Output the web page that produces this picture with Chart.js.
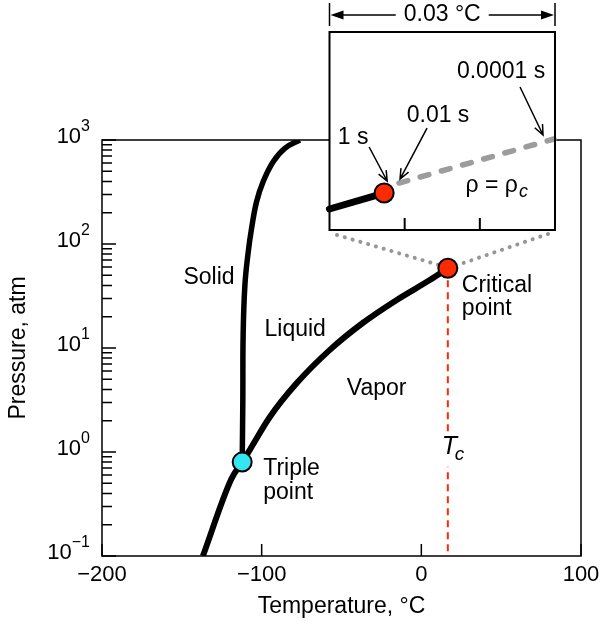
<!DOCTYPE html>
<html>
<head>
<meta charset="utf-8">
<script src="https://cdn.jsdelivr.net/npm/chart.js@4.4.1/dist/chart.umd.min.js"></script>
<style>
  html, body { margin: 0; padding: 0; background: #fff; }
  #wrap { position: relative; width: 602px; height: 627px; }
  #main { position: absolute; left: 0; top: 0; }
  #inset { position: absolute; left: 318px; top: 0; }
</style>
</head>
<body>
<div id="wrap">
  <canvas id="main" width="602" height="627"></canvas>
  <canvas id="inset" width="250" height="242"></canvas>
</div>
<script>
// sublimation curve (solid - vapor), up to the triple point
const sublimT = [-136.8, -119.0, -112.2];
const sublimP = [0.1, 0.55, 0.80];
// vapor pressure curve, triple point to critical point
const vaporT = [-112.2, -107.4, -94.9, -78.0, -57.3, -36.7, -15.4, 5.3, 16.6];
const vaporP = [0.80, 1.05, 2.17, 4.6, 9.6, 17.4, 29, 45, 58.4];
// melting curve
const meltT = [-112.2, -111.8, -111.6, -110.5, -108.4, -106.3, -103.2, -99.1, -92.8, -85.5, -76.1];
const meltP = [0.80, 3.16, 13.3, 40.3, 84.3, 142, 255, 397, 618, 832, 1000];

const tripleT = -112.2, tripleP = 0.80;
const criticalT = 16.6, criticalP = 58.4;

const xTicks = [-200, -100, 0, 100];
const yDecades = [-1, 0, 1, 2, 3];

// inset: a 0.03 °C window at the critical point
const insetCurveT = [0, 0.00727];
const insetCurveP = [0.00424, 0.00747];
const insetDashT = [0.00925, 0.02987];
const insetDashP = [0.00949, 0.01838];
const insetTicks = [0.01, 0.02];
const timeLabels = ['1 s', '0.01 s', '0.0001 s'];

const FONT = '"Liberation Sans", Arial, Helvetica, sans-serif';
const RED = '#ff2a00';
const CYAN = '#33e6ef';
const insetBox = { left: 328, top: 32, right: 555, bottom: 230 };

function pts(xs, ys) {
  return xs.map((v, i) => ({ x: v, y: ys[i] }));
}

function arrow(ctx, x0, y0, x1, y1) {
  const a = Math.atan2(y1 - y0, x1 - x0);
  ctx.beginPath();
  ctx.moveTo(x0, y0);
  ctx.lineTo(x1, y1);
  ctx.moveTo(x1 - 11 * Math.cos(a - 0.4), y1 - 11 * Math.sin(a - 0.4));
  ctx.lineTo(x1, y1);
  ctx.lineTo(x1 - 11 * Math.cos(a + 0.4), y1 - 11 * Math.sin(a + 0.4));
  ctx.stroke();
}

const mainDecor = {
  id: 'mainDecor',
  beforeDatasetsDraw(chart) {
    const { ctx, scales: { x, y } } = chart;
    const cx = x.getPixelForValue(criticalT);
    const cy = y.getPixelForValue(criticalP);
    // dotted guides from the inset corners to the critical point
    ctx.save();
    ctx.strokeStyle = '#969696';
    ctx.lineWidth = 4;
    ctx.lineCap = 'round';
    ctx.setLineDash([0.1, 8]);
    ctx.beginPath();
    ctx.moveTo(insetBox.left + 9, insetBox.bottom + 5);
    ctx.lineTo(cx - 8, cy - 3);
    ctx.moveTo(insetBox.right - 7, insetBox.bottom + 4);
    ctx.lineTo(cx + 9, cy - 3);
    ctx.stroke();
    ctx.restore();
  },
  afterDatasetsDraw(chart) {
    const { ctx, scales: { x, y } } = chart;
    ctx.save();
    ctx.fillStyle = '#000';
    ctx.font = '23px ' + FONT;
    ctx.textBaseline = 'middle';
    ctx.textAlign = 'center';
    ctx.fillText('Solid', x.getPixelForValue(-133), y.getPixelForValue(47));
    ctx.fillText('Liquid', x.getPixelForValue(-79), y.getPixelForValue(14.9));
    ctx.fillText('Vapor', x.getPixelForValue(-28), y.getPixelForValue(4.1));

    ctx.textAlign = 'left';
    const tx = x.getPixelForValue(tripleT), ty = y.getPixelForValue(tripleP);
    ctx.fillText('Triple', tx + 21, ty + 7);
    ctx.fillText('point', tx + 21, ty + 31);
    const cx = x.getPixelForValue(criticalT), cy = y.getPixelForValue(criticalP);
    ctx.fillText('Critical', cx + 14, cy + 17);
    ctx.fillText('point', cx + 14, cy + 40);

    // T_c label sitting on the dashed line
    const lx = cx - 6, ly = y.getPixelForValue(1.05);
    ctx.fillStyle = '#fff';
    ctx.fillRect(lx - 2, ly - 15, 28, 32);
    ctx.fillStyle = '#000';
    ctx.font = 'italic 25px ' + FONT;
    ctx.fillText('T', lx, ly - 3);
    ctx.font = 'italic 19px ' + FONT;
    ctx.fillText('c', lx + 13, ly + 5);
    ctx.restore();
  },
  afterDraw(chart) {
    const { ctx, chartArea: a, scales: { x, y } } = chart;
    ctx.save();
    ctx.strokeStyle = '#000';
    ctx.lineWidth = 1.5;
    ctx.strokeRect(a.left, a.top, a.right - a.left, a.bottom - a.top);

    // log ticks on the left axis, pointing inwards
    ctx.beginPath();
    yDecades.forEach(d => {
      const base = Math.pow(10, d);
      const py = y.getPixelForValue(base);
      ctx.moveTo(a.left, py);
      ctx.lineTo(a.left + 14, py);
      if (d < 3) {
        for (let m = 2; m <= 9; m++) {
          const my = y.getPixelForValue(m * base);
          ctx.moveTo(a.left, my);
          ctx.lineTo(a.left + 10, my);
        }
      }
    });
    xTicks.forEach(v => {
      const px = x.getPixelForValue(v);
      ctx.moveTo(px, a.bottom);
      ctx.lineTo(px, a.bottom - 12);
    });
    ctx.stroke();

    ctx.fillStyle = '#000';
    ctx.textBaseline = 'middle';
    yDecades.forEach(d => {
      const py = y.getPixelForValue(Math.pow(10, d));
      const exp = d < 0 ? '\u2212' + (-d) : String(d);
      ctx.font = '16px ' + FONT;
      const ew = ctx.measureText(exp).width;
      ctx.textAlign = 'left';
      ctx.fillText(exp, a.left - 12 - ew, py - 13);
      ctx.font = '22px ' + FONT;
      ctx.textAlign = 'right';
      ctx.fillText('10', a.left - 12 - ew, py - 3);
    });

    ctx.textAlign = 'center';
    ctx.font = '22px ' + FONT;
    xTicks.forEach(v => {
      const label = v < 0 ? '\u2212' + (-v) : String(v);
      ctx.fillText(label, x.getPixelForValue(v), a.bottom + 19);
    });

    ctx.font = '23px ' + FONT;
    ctx.fillText('Temperature, \u00b0C', (a.left + a.right) / 2, a.bottom + 51);
    ctx.translate(19, (a.top + a.bottom) / 2);
    ctx.rotate(-Math.PI / 2);
    ctx.fillText('Pressure, atm', 0, 0);
    ctx.restore();
  }
};

const mainConfig = {
  type: 'scatter',
  data: {
    datasets: [
      {
        data: [{ x: tripleT, y: tripleP }],
        pointRadius: 9.5,
        backgroundColor: CYAN,
        borderColor: '#000',
        borderWidth: 2,
        order: 0
      },
      {
        data: [{ x: criticalT, y: criticalP }],
        pointRadius: 9.5,
        backgroundColor: RED,
        borderColor: '#000',
        borderWidth: 2,
        order: 0
      },
      {
        data: pts(vaporT, vaporP),
        showLine: true,
        borderColor: '#000',
        borderWidth: 6,
        cubicInterpolationMode: 'monotone',
        pointRadius: 0,
        order: 1
      },
      {
        data: pts(sublimT, sublimP),
        showLine: true,
        borderColor: '#000',
        borderWidth: 6,
        cubicInterpolationMode: 'monotone',
        pointRadius: 0,
        order: 1
      },
      {
        data: pts(meltT, meltP),
        showLine: true,
        borderColor: '#000',
        borderWidth: 5.5,
        tension: 0.4,
        pointRadius: 0,
        order: 1
      },
      {
        data: [{ x: criticalT, y: criticalP }, { x: criticalT, y: 0.1 }],
        showLine: true,
        borderColor: RED,
        borderWidth: 2,
        borderDash: [7, 5],
        pointRadius: 0,
        order: 2
      }
    ]
  },
  options: {
    responsive: false,
    animation: false,
    events: [],
    layout: { padding: { left: 102, top: 140, right: 21, bottom: 71 } },
    plugins: { legend: { display: false }, tooltip: { enabled: false } },
    scales: {
      x: { type: 'linear', display: false, min: -200, max: 100 },
      y: { type: 'logarithmic', display: false, min: 0.1, max: 1000 }
    }
  },
  plugins: [mainDecor]
};

const insetDecor = {
  id: 'insetDecor',
  beforeDraw(chart) {
    const { ctx, chartArea: a } = chart;
    ctx.save();
    ctx.fillStyle = '#fff';
    ctx.fillRect(a.left, a.top, a.right - a.left, a.bottom - a.top);
    ctx.restore();
  },
  afterDraw(chart) {
    const { ctx, chartArea: a, scales: { x, y } } = chart;
    ctx.save();
    ctx.strokeStyle = '#000';
    ctx.fillStyle = '#000';
    ctx.lineWidth = 2;
    ctx.strokeRect(a.left, a.top, a.right - a.left, a.bottom - a.top);
    ctx.beginPath();
    insetTicks.forEach(v => {
      const px = x.getPixelForValue(v);
      ctx.moveTo(px, a.bottom);
      ctx.lineTo(px, a.bottom - 12);
    });
    ctx.stroke();

    // width of the window, drawn above the box
    const dy = a.top - 17;
    const mid = (a.left + a.right) / 2;
    ctx.font = '23px ' + FONT;
    ctx.textAlign = 'center';
    ctx.textBaseline = 'middle';
    const label = (x.max - x.min).toFixed(2) + ' \u00b0C';
    const tw = ctx.measureText(label).width;
    ctx.fillText(label, mid, dy);
    ctx.lineWidth = 1.5;
    ctx.beginPath();
    ctx.moveTo(a.left, dy - 12); ctx.lineTo(a.left, dy + 11);
    ctx.moveTo(a.right, dy - 12); ctx.lineTo(a.right, dy + 11);
    ctx.moveTo(a.left + 10, dy); ctx.lineTo(mid - tw / 2 - 8, dy);
    ctx.moveTo(mid + tw / 2 + 8, dy); ctx.lineTo(a.right - 10, dy);
    ctx.stroke();
    ctx.beginPath();
    ctx.moveTo(a.left + 1, dy); ctx.lineTo(a.left + 14, dy - 4.5); ctx.lineTo(a.left + 14, dy + 4.5);
    ctx.closePath();
    ctx.moveTo(a.right - 1, dy); ctx.lineTo(a.right - 14, dy - 4.5); ctx.lineTo(a.right - 14, dy + 4.5);
    ctx.closePath();
    ctx.fill();

    // time markers along the line
    const p1 = { x: x.getPixelForValue(insetCurveT[1]), y: y.getPixelForValue(insetCurveP[1]) };
    const p2 = { x: x.getPixelForValue(insetDashT[0]), y: y.getPixelForValue(insetDashP[0]) };
    const p3 = { x: x.getPixelForValue(insetDashT[1]), y: y.getPixelForValue(insetDashP[1]) };
    ctx.lineWidth = 1.5;
    arrow(ctx, p1.x - 15, p1.y - 46, p1.x + 3, p1.y - 12);
    arrow(ctx, p2.x + 28, p2.y - 55, p2.x + 1, p2.y - 4);
    arrow(ctx, p3.x - 34, p3.y - 52, p3.x - 11, p3.y - 4);
    ctx.fillText(timeLabels[0], p1.x - 31, p1.y - 55);
    ctx.fillText(timeLabels[1], p2.x + 39, p2.y - 67);
    ctx.fillText(timeLabels[2], p3.x - 53, p3.y - 67);

    // rho = rho_c
    ctx.textAlign = 'left';
    const rx = x.getPixelForValue(0.0181), ry = y.getPixelForValue(0.0089);
    ctx.fillText('\u03c1 = \u03c1', rx, ry);
    const rw = ctx.measureText('\u03c1 = \u03c1').width;
    ctx.font = 'italic 18px ' + FONT;
    ctx.fillText('c', rx + rw + 1, ry + 6);
    ctx.restore();
  }
};

const insetConfig = {
  type: 'scatter',
  data: {
    datasets: [
      {
        data: [{ x: insetCurveT[1], y: insetCurveP[1] }],
        pointRadius: 9.5,
        backgroundColor: RED,
        borderColor: '#000',
        borderWidth: 2,
        order: 0
      },
      {
        data: pts(insetCurveT, insetCurveP),
        showLine: true,
        borderColor: '#000',
        borderWidth: 7,
        borderCapStyle: 'round',
        pointRadius: 0,
        clip: false,
        order: 1
      },
      {
        data: pts(insetDashT, insetDashP),
        showLine: true,
        borderColor: '#9c9c9c',
        borderWidth: 5.5,
        borderDash: [9, 13],
        borderCapStyle: 'round',
        pointRadius: 0,
        clip: false,
        order: 1
      }
    ]
  },
  options: {
    responsive: false,
    animation: false,
    events: [],
    layout: { padding: { left: 10, top: 32, right: 13, bottom: 12 } },
    plugins: { legend: { display: false }, tooltip: { enabled: false } },
    scales: {
      x: { type: 'linear', display: false, min: 0, max: 0.03 },
      y: { type: 'linear', display: false, min: 0, max: 0.04 }
    }
  },
  plugins: [insetDecor]
};

const mainChart = new Chart(document.getElementById('main'), mainConfig);
const insetChart = new Chart(document.getElementById('inset'), insetConfig);
</script>
</body>
</html>
